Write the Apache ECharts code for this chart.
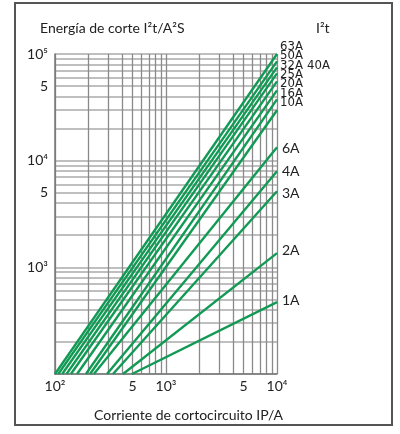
<!DOCTYPE html>
<html><head><meta charset="utf-8">
<script src="https://cdn.jsdelivr.net/npm/echarts@6/dist/echarts.min.js"></script>
<style>html,body{margin:0;padding:0;background:#fff}#c{width:400px;height:434px}</style>
</head><body><div id="c"></div>
<script>
// Fuse ratings (one I²t line each)
const ratings = ['63A','50A','40A','32A','25A','20A','16A','10A','6A','4A','3A','2A','1A'];
// Prospective short-circuit current (A) at which each line reaches I²t = 100 A²s
const startCurrent = [100,107,116,127,139,158,190,207,224,294,333,410,494];
// I²t (A²s) of each line at 10^4 A
const endI2t = [100000,85300,75000,65800,55400,45600,37600,29650,13350,7960,5170,1358,472];
// Axis tick labels
const xTickValues = [100,500,1000,5000,10000];
const xTickLabels = ['10²','5','10³','5','10⁴'];
const yTickValues = [1000,5000,10000,50000,100000];
const yTickLabels = ['10³','5','10⁴','5','10⁵'];

const labelOffsets = [[-1,-7],[-1,-5.5],[26,-1.5],[-1,-7.5],[-1,-6.5],[-1,-6.3],[-1,-6],[-1,-8],[1,1],[1,0.7],[1,2],[1,-3],[1,-2]];
const topCluster = 8;

const chart = echarts.init(document.getElementById('c'), null, {renderer:'canvas'});
const FONT = 'Lato, "Noto Sans", sans-serif';
const fmt = (vals, labs) => v => { const i = vals.findIndex(t => Math.abs(t - v) / t < 1e-6); return i >= 0 ? labs[i] : ''; };

const series = ratings.map((r, i) => ({
  name: r,
  type: 'line',
  data: [[startCurrent[i], 100], [10000, endI2t[i]]],
  showSymbol: false,
  symbol: 'none',
  lineStyle: {color: '#129a55', width: 2.4},
  silent: true,
  animation: false,
  endLabel: {
    show: true,
    formatter: r,
    distance: 4,
    offset: labelOffsets[i],
    color: '#222',
    fontFamily: i < topCluster ? '"Liberation Sans Narrow", "DejaVu Sans Condensed", sans-serif' : FONT,
    fontSize: i < topCluster ? 13 : 14
  }
}));

chart.setOption({
  animation: false,
  backgroundColor: '#fff',
  grid: {left: 55, right: 123, top: 54, bottom: 60, containLabel: false},
  title: [
    {text: 'Energía de corte I²t/A²S', left: 35, top: 16, textStyle: {fontFamily: FONT, fontSize: 14, fontWeight: 'normal', color: '#222'}},
    {text: 'I²t', left: 311, top: 16, textStyle: {fontFamily: FONT, fontSize: 14, fontWeight: 'normal', color: '#222'}},
    {text: 'Corriente de cortocircuito IP/A', left: 89, top: 403, textStyle: {fontFamily: FONT, fontSize: 14, fontWeight: 'normal', color: '#222'}}
  ],
  graphic: [{type: 'rect', shape: {x: 15, y: 3, width: 377, height: 422}, style: {fill: null, stroke: '#555', lineWidth: 2}, silent: true, z: 100}],
  xAxis: {
    type: 'log', logBase: 10, min: 100, max: 10000,
    axisLine: {show: true, lineStyle: {color: '#777', width: 1.5}},
    axisTick: {show: false},
    minorTick: {show: false, splitNumber: 9},
    splitLine: {show: true, lineStyle: {color: '#8a8a8a', width: 1.3}},
    minorSplitLine: {show: true, lineStyle: {color: '#8a8a8a', width: 1.3}},
    axisLabel: {customValues: xTickValues, formatter: fmt(xTickValues, xTickLabels), margin: 5, color: '#222', fontFamily: FONT, fontSize: 14}
  },
  yAxis: {
    type: 'log', logBase: 10, min: 100, max: 100000,
    axisLine: {show: true, lineStyle: {color: '#777', width: 1.5}},
    axisTick: {show: false},
    minorTick: {show: false, splitNumber: 9},
    splitLine: {show: true, lineStyle: {color: '#aaaaaa', width: 1.6}},
    minorSplitLine: {show: true, lineStyle: {color: '#aaaaaa', width: 1.6}},
    axisLabel: {customValues: yTickValues, formatter: fmt(yTickValues, yTickLabels), margin: 7, color: '#222', fontFamily: FONT, fontSize: 14}
  },
  series: series
});
</script></body></html>
